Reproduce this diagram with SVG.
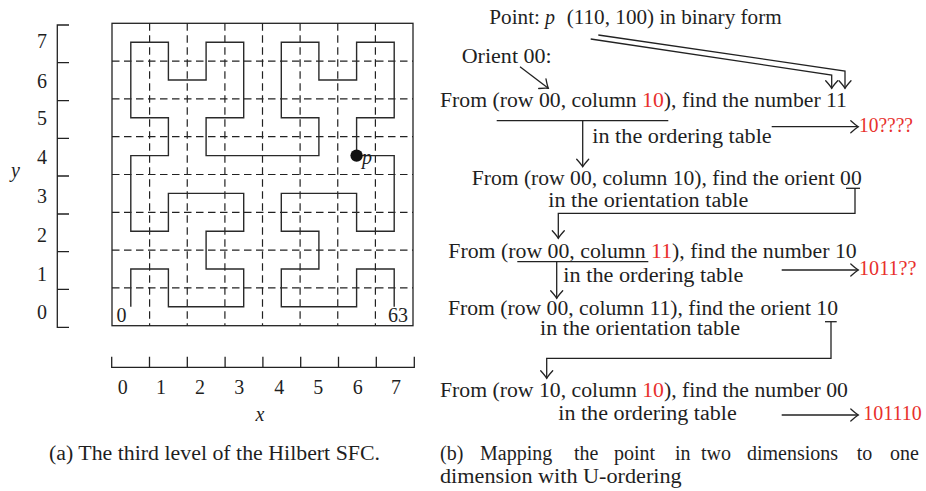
<svg xmlns="http://www.w3.org/2000/svg" width="926" height="491" viewBox="0 0 926 491">
<style>
  text { font-family: "Liberation Serif", "Times New Roman", serif; font-size: 20px; fill: #1f1f1f; }
  .red { fill: #e8302c; }
  .it { font-style: italic; }
  .mid { text-anchor: middle; }
  .frame { fill: none; stroke: #222; stroke-width: 1.3; }
  .dash { fill: none; stroke: #222; stroke-width: 1.2; stroke-dasharray: 7.5 4.5; }
  .curve { fill: none; stroke: #2a2a2a; stroke-width: 1.4; }
  .axis { fill: none; stroke: #222; stroke-width: 1.3; }
  .conn { fill: none; stroke: #222; stroke-width: 1.3; }
  .arrow { marker-end: url(#head); }
</style>
<defs>
  <marker id="head" markerUnits="userSpaceOnUse" viewBox="-10 -8 12 16" refX="0" refY="0" markerWidth="12" markerHeight="16" orient="auto" overflow="visible">
    <path d="M -7.5 -6 Q -2.5 -1.5 0 0 Q -2.5 1.5 -7.5 6" fill="none" stroke="#222" stroke-width="1.3" stroke-linecap="round"/>
  </marker>
</defs>

<!-- (a) third-level Hilbert curve on an 8x8 grid -->
<g id="hilbert-grid">
  <rect class="frame" x="112" y="23.3" width="301" height="302.4"/>
  <path class="dash" d="M149.6,23.3 V325.7 M187.25,23.3 V325.7 M224.9,23.3 V325.7 M262.5,23.3 V325.7 M300.1,23.3 V325.7 M337.75,23.3 V325.7 M375.4,23.3 V325.7"/>
  <path class="dash" d="M112,287.9 H413 M112,250.1 H413 M112,212.3 H413 M112,174.5 H413 M112,136.7 H413 M112,98.9 H413 M112,61.1 H413"/>
  <path class="curve" d="M130.8,306.8 V269 H168.4 V306.8 H243.7 V269 H206.1 V231.2 H243.7 V193.4 H168.4 V231.2 H130.8 V155.6 H168.4 V117.8 H130.8 V42.2 H168.4 V80 H206.1 V42.2 H243.7 V117.8 H206.1 V155.6 H318.9 V117.8 H281.3 V42.2 H318.9 V80 H356.6 V42.2 H394.2 V117.8 H356.6 V155.6 H394.2 V231.2 H356.6 V193.4 H281.3 V231.2 H318.9 V269 H281.3 V306.8 H356.6 V269 H394.2 V306.8"/>
  <text x="116.5" y="321.5">0</text>
  <text x="388" y="322">63</text>
</g>
<g id="point-p">
  <circle cx="356.6" cy="155.6" r="6.2" fill="#111"/>
  <text class="it" x="362" y="164">p</text>
</g>

<g id="y-axis">
  <path class="axis" d="M69,25 H57.3 V327.3 H69 M57.3,62.7 H69 M57.3,100.7 H69 M57.3,138.3 H69 M57.3,176 H69 M57.3,214 H69 M57.3,251.7 H69 M57.3,289.3 H69"/>
  <text class="mid" x="42" y="48.3">7</text>
  <text class="mid" x="42" y="88.3">6</text>
  <text class="mid" x="42" y="125">5</text>
  <text class="mid" x="42" y="164.3">4</text>
  <text class="mid" x="42" y="202.7">3</text>
  <text class="mid" x="42" y="242.3">2</text>
  <text class="mid" x="42" y="281">1</text>
  <text class="mid" x="42" y="319">0</text>
  <text class="it mid" x="15.5" y="177">y</text>
</g>

<g id="x-axis">
  <path class="axis" d="M111.7,356.7 V367.3 H414.3 V356.7 M149.5,356.7 V367.3 M187.3,356.7 V367.3 M225.1,356.7 V367.3 M262.9,356.7 V367.3 M300.7,356.7 V367.3 M338.5,356.7 V367.3 M376.3,356.7 V367.3"/>
  <text class="mid" x="122.7" y="394">0</text>
  <text class="mid" x="161" y="394">1</text>
  <text class="mid" x="200" y="394">2</text>
  <text class="mid" x="239.3" y="394">3</text>
  <text class="mid" x="279.3" y="394">4</text>
  <text class="mid" x="318.3" y="394">5</text>
  <text class="mid" x="357.7" y="394">6</text>
  <text class="mid" x="396" y="394">7</text>
  <text class="it mid" x="260" y="421">x</text>
</g>

<g id="caption-a">
  <text x="49" y="460" textLength="331" lengthAdjust="spacingAndGlyphs">(a)  The third level of the Hilbert SFC.</text>
</g>

<!-- (b) step-by-step U-ordering lookup -->
<g id="point-label">
  <text x="489.3" y="24" textLength="50.7" lengthAdjust="spacingAndGlyphs">Point:</text>
  <text class="it" x="545" y="24">p</text>
  <text x="566.7" y="24" textLength="215" lengthAdjust="spacingAndGlyphs">(110, 100) in binary form</text>
</g>
<g id="orient-label">
  <text x="461.7" y="63.3" textLength="90" lengthAdjust="spacingAndGlyphs">Orient 00:</text>
</g>
<g id="step-1">
  <text x="440" y="107.3" textLength="407" lengthAdjust="spacingAndGlyphs">From (row 00, column <tspan class="red">10</tspan>), find the number 11</text>
  <text x="592.3" y="142.7" textLength="179.4" lengthAdjust="spacingAndGlyphs">in the ordering table</text>
</g>
<g id="result-1">
  <text class="red" x="859" y="131.7" textLength="54" lengthAdjust="spacingAndGlyphs">10????</text>
</g>
<g id="step-2">
  <text x="471.7" y="185" textLength="390" lengthAdjust="spacingAndGlyphs">From (row 00, column 10), find the orient 00</text>
  <text x="548.3" y="206.7" textLength="200" lengthAdjust="spacingAndGlyphs">in the orientation table</text>
</g>
<g id="step-3">
  <text x="448.3" y="258.3" textLength="408.4" lengthAdjust="spacingAndGlyphs">From (row 00, column <tspan class="red">11</tspan>), find the number 10</text>
  <text x="563.3" y="281.7" textLength="180" lengthAdjust="spacingAndGlyphs">in the ordering table</text>
</g>
<g id="result-2">
  <text class="red" x="859" y="275.3" textLength="57.5" lengthAdjust="spacingAndGlyphs">1011??</text>
</g>
<g id="step-4">
  <text x="448" y="315" textLength="390" lengthAdjust="spacingAndGlyphs">From (row 00, column 11), find the orient 10</text>
  <text x="540" y="335" textLength="200" lengthAdjust="spacingAndGlyphs">in the orientation table</text>
</g>
<g id="step-5">
  <text x="440" y="397.3" textLength="408" lengthAdjust="spacingAndGlyphs">From (row 10, column <tspan class="red">10</tspan>), find the number 00</text>
  <text x="558.3" y="420" textLength="178.4" lengthAdjust="spacingAndGlyphs">in the ordering table</text>
</g>
<g id="result-3">
  <text class="red" x="863.3" y="420" textLength="58.4" lengthAdjust="spacingAndGlyphs">101110</text>
</g>

<!-- justified caption: each word placed at its own x -->
<g id="caption-b">
  <text y="460">
    <tspan x="440">(b)</tspan>
    <tspan x="480">Mapping</tspan>
    <tspan x="574">the</tspan>
    <tspan x="614">point</tspan>
    <tspan x="675">in</tspan>
    <tspan x="701">two</tspan>
    <tspan x="747">dimensions</tspan>
    <tspan x="856.7">to</tspan>
    <tspan x="890">one</tspan>
  </text>
  <text x="440" y="483.3" textLength="241.7" lengthAdjust="spacingAndGlyphs">dimension with U-ordering</text>
</g>

<g id="connectors">
  <path class="conn arrow" d="M520,66.7 L548.3,88.3"/>
  <path class="conn arrow" d="M598.3,35 L845,71 V88.3"/>
  <path class="conn arrow" d="M590.7,39 L831.7,75 V88.3"/>
  <path class="conn" d="M496.7,120.7 H668.3"/>
  <path class="conn arrow" d="M582.7,120.7 V166.7"/>
  <path class="conn arrow" d="M771.7,126.7 H858.3"/>
  <path class="conn" d="M846,188.3 H860"/>
  <path class="conn arrow" d="M855,188.3 V213.3 H558.3 V238.3"/>
  <path class="conn" d="M517.3,261.7 H648.3"/>
  <path class="conn arrow" d="M556.7,261.7 V298.3"/>
  <path class="conn arrow" d="M781.7,270 H858.3"/>
  <path class="conn" d="M825,321.7 H836.7"/>
  <path class="conn arrow" d="M831,321.7 V358.3 H546.7 V378.3"/>
  <path class="conn arrow" d="M781.7,415 H858.3"/>
</g>
</svg>
